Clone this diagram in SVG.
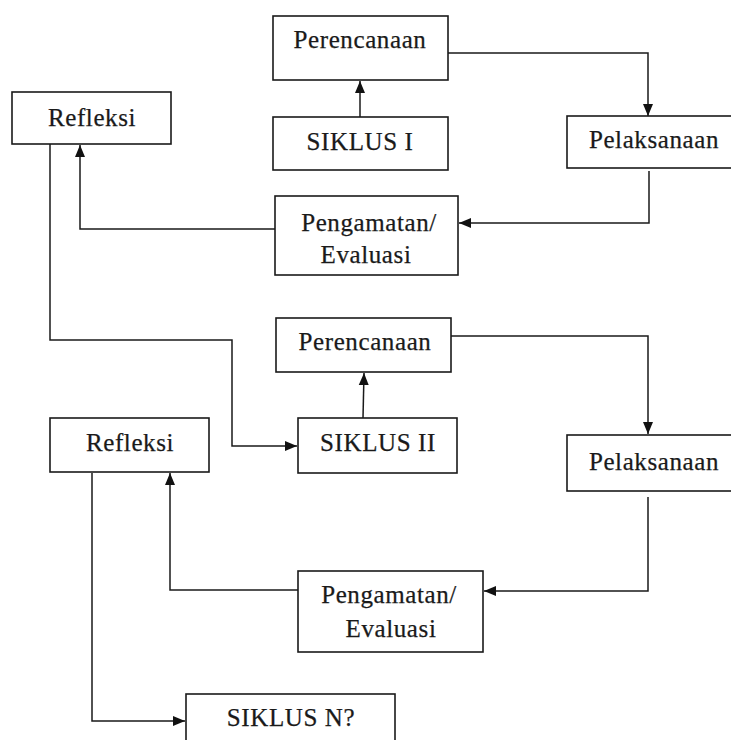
<svg xmlns="http://www.w3.org/2000/svg" width="731" height="740" viewBox="0 0 731 740">
<defs>
<style>
.box{fill:#fff;stroke:#1a1a1a;stroke-width:1.6}
.lbl{font-family:"Liberation Serif","Times New Roman",serif;font-size:25px;letter-spacing:0.6px;fill:#1a1a1a;stroke:#1a1a1a;stroke-width:0.25;text-anchor:middle}
.con{fill:none;stroke:#1a1a1a;stroke-width:1.5}
</style>
<marker id="ah" markerUnits="userSpaceOnUse" markerWidth="13" markerHeight="13" viewBox="0 0 13 13" refX="12" refY="6.5" orient="auto">
<path d="M0,1.5 L12,6.5 L0,11.5 Z" fill="#111"/>
</marker>
</defs>
<rect width="731" height="740" fill="#fff"/>
<g id="connectors">
<path class="con" d="M360,117 L360,81" marker-end="url(#ah)"/>
<path class="con" d="M448,53 L648,53 L648,116" marker-end="url(#ah)"/>
<path class="con" d="M649,171 L649,223 L459,223" marker-end="url(#ah)"/>
<path class="con" d="M275,229 L80,229 L80,145" marker-end="url(#ah)"/>
<path class="con" d="M50,144 L50,340 L232,340 L232,446 L297,446" marker-end="url(#ah)"/>
<path class="con" d="M363,418 L364,373" marker-end="url(#ah)"/>
<path class="con" d="M451,336 L648,336 L648,434" marker-end="url(#ah)"/>
<path class="con" d="M648,497 L648,591 L484,591" marker-end="url(#ah)"/>
<path class="con" d="M298,590 L170,590 L170,473" marker-end="url(#ah)"/>
<path class="con" d="M92,473 L92,721 L185,721" marker-end="url(#ah)"/>
</g>
<g id="perencanaan1"><rect class="box" x="273" y="16" width="175" height="64"/><text class="lbl" x="360" y="48">Perencanaan</text></g>
<g id="siklus1"><rect class="box" x="273" y="117" width="175" height="53"/><text class="lbl" x="360" y="150">SIKLUS I</text></g>
<g id="refleksi1"><rect class="box" x="12" y="92" width="159" height="52"/><text class="lbl" x="92" y="126">Refleksi</text></g>
<g id="pelaksanaan1"><rect class="box" x="567" y="116" width="166" height="52"/><text class="lbl" x="654" y="148">Pelaksanaan</text></g>
<g id="pengamatan1"><rect class="box" x="275" y="196" width="183" height="79"/><text class="lbl" x="369" y="231">Pengamatan/</text><text class="lbl" x="366" y="263">Evaluasi</text></g>
<g id="perencanaan2"><rect class="box" x="276" y="318" width="175" height="54"/><text class="lbl" x="365" y="350">Perencanaan</text></g>
<g id="siklus2"><rect class="box" x="298" y="418" width="159" height="55"/><text class="lbl" x="378" y="451">SIKLUS II</text></g>
<g id="refleksi2"><rect class="box" x="50" y="418" width="159" height="54"/><text class="lbl" x="130" y="451">Refleksi</text></g>
<g id="pelaksanaan2"><rect class="box" x="567" y="435" width="166" height="56"/><text class="lbl" x="654" y="470">Pelaksanaan</text></g>
<g id="pengamatan2"><rect class="box" x="298" y="571" width="185" height="81"/><text class="lbl" x="389" y="603">Pengamatan/</text><text class="lbl" x="391" y="637">Evaluasi</text></g>
<g id="siklusN"><rect class="box" x="186" y="694" width="209" height="60"/><text class="lbl" x="291" y="726">SIKLUS N?</text></g>
</svg>
